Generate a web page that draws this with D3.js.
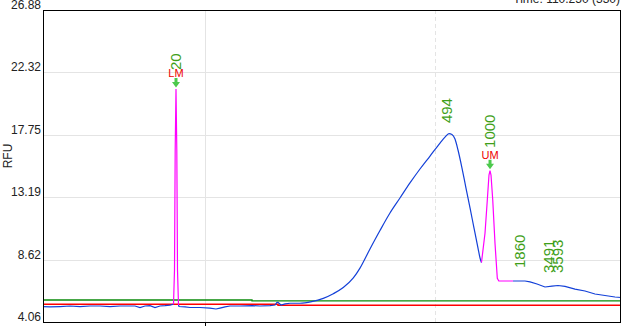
<!DOCTYPE html>
<html><head><meta charset="utf-8">
<script src="https://cdn.jsdelivr.net/npm/d3@7"></script>
<style>html,body{margin:0;padding:0;background:#fff;}svg{display:block;}</style>
</head><body>
<script>
// ---- data (time, RFU) ----
const yTickValues = [4.06, 8.62, 13.19, 17.75, 22.32, 26.88];
const xGridSolid = [40];
const xGridDashed = [80];
const xDomain = [12, 112];
const titleText = "Time: 110.250 (330)";

const blueSeg1 = [[12.00,5.19],[13.21,5.16],[14.94,5.19],[16.67,5.23],[18.40,5.19],[20.13,5.23],[21.86,5.23],[23.59,5.19],[25.32,5.23],[27.05,5.23],[27.92,5.23],[28.78,5.12],[29.65,5.23],[30.51,5.26],[31.38,5.12],[32.24,5.23],[33.11,5.26],[33.97,5.30],[34.58,5.36]];
const magentaLM = [[34.58,5.36],[34.75,7.86],[34.87,16.64],[35.01,21.10],[35.15,16.64],[35.27,7.86],[35.44,5.30]];
const blueBase2 = [[35.44,5.30],[35.53,5.19],[36.57,5.16],[37.43,5.12],[39.16,5.12],[40.89,5.08],[41.93,5.01],[42.62,5.08],[43.49,5.16],[44.35,5.23],[46.08,5.23],[48.16,5.26],[49.54,5.23],[51.27,5.26],[52.14,5.30],[52.48,5.50],[52.66,5.50],[53.18,5.30],[53.88,5.38],[54.73,5.43]];
const blueRise = [[54.73,5.43],[56.46,5.43],[58.49,5.55],[60.49,5.79],[62.22,6.13],[63.95,6.58],[65.69,7.28],[66.84,8.00],[68.57,9.40],[70.30,10.75],[72.03,12.03],[73.76,13.13],[75.49,14.23],[77.22,15.25],[78.96,16.20],[80.69,17.15],[81.55,17.58],[82.24,17.84],[82.76,17.78],[83.28,17.44],[83.80,16.64],[84.49,15.32],[85.18,13.86],[85.88,12.40],[86.57,10.93],[87.26,9.47],[87.61,8.74],[87.86,8.41]];
const magentaUM = [[87.86,8.41],[88.47,10.55],[88.87,12.98],[89.16,14.81],[89.34,15.13],[89.51,14.81],[89.81,12.98],[90.20,9.82],[90.60,7.26],[90.86,7.06],[93.32,7.06]];
const blueSeg3 = [[93.32,7.06],[95.39,7.06],[96.26,6.99],[97.47,6.84],[98.85,6.62],[100.06,6.69],[101.10,6.73],[102.31,6.66],[104.04,6.47],[105.77,6.33],[107.50,6.11],[109.23,6.00],[110.96,5.89],[112.00,5.85]];
const greenLine = [[12,5.67],[48.16,5.67],[48.16,5.60],[112,5.60]];
const redLine = [[12,5.36],[52.66,5.36],[52.66,5.28],[112,5.28]];

const peakLabels = ["20","494","1000","1860","3491","3593"];
const peakLabelTimes = [35.01, 81.9, 89.34, 94.53, 99.54, 101.01];
const peakLabelRfu = [22.49, 18.61, 16.79, 8.01, 7.64, 7.64];

const markerNames = ["LM","UM"];
const markerTimes = [35.01, 89.34];
const markerRfu = [21.10, 15.13];

// ---- layout ----
const W = 628, H = 330;
const L = 43, R = 621, T = 10, B = 322;
const font = "'Liberation Sans', Arial, sans-serif";

const svg = d3.select("body").append("svg").attr("width", W).attr("height", H);
const x = d3.scaleLinear().domain(xDomain).range([L, R]);
const y = d3.scaleLinear().domain([4.06, 26.88]).range([B, T]);

// grid
svg.selectAll("line.hg").data(yTickValues.slice(1, -1)).join("line")
  .attr("x1", L).attr("x2", R).attr("y1", d => Math.round(y(d)) + 0.5).attr("y2", d => Math.round(y(d)) + 0.5)
  .attr("stroke", "#e4e4e4").attr("stroke-width", 1);
svg.selectAll("line.vs").data(xGridSolid).join("line")
  .attr("x1", d => Math.round(x(d)) + 0.5).attr("x2", d => Math.round(x(d)) + 0.5).attr("y1", T).attr("y2", B)
  .attr("stroke", "#e4e4e4");
svg.selectAll("line.vd").data(xGridDashed).join("line")
  .attr("x1", d => Math.round(x(d)) - 0.5).attr("x2", d => Math.round(x(d)) - 0.5).attr("y1", T).attr("y2", B)
  .attr("stroke", "#e4e4e4").attr("stroke-dasharray", "4,3");

// y tick labels
svg.selectAll("text.yt").data(yTickValues).join("text")
  .attr("x", L - 2).attr("y", d => y(d) - 1)
  .attr("text-anchor", "end").attr("font-family", font).attr("font-size", 12).attr("fill", "#222")
  .text(d => d.toFixed(2));

svg.append("text").attr("transform", `translate(12,${(T + B) / 2 - 10}) rotate(-90)`)
  .attr("text-anchor", "middle").attr("font-family", font).attr("font-size", 12).attr("fill", "#222").text("RFU");

// x axis tick (only visible one)
svg.selectAll("line.xt").data(xGridSolid).join("line")
  .attr("x1", d => Math.round(x(d)) + 0.5).attr("x2", d => Math.round(x(d)) + 0.5).attr("y1", B).attr("y2", B + 4)
  .attr("stroke", "#000");

// title (partially cut at top)
svg.append("text").attr("x", R - 1).attr("y", 3).attr("text-anchor", "end")
  .attr("font-family", font).attr("font-size", 12).attr("fill", "#222").text(titleText);

const line = d3.line().x(d => x(d[0])).y(d => y(d[1]));
const smooth = d3.line().curve(d3.curveMonotoneX).x(d => x(d[0])).y(d => y(d[1]));
const g = svg.append("g");
g.append("path").datum(greenLine).attr("d", line).attr("fill", "none").attr("stroke", "#0a8a0a").attr("stroke-width", 1.3);
g.append("path").datum(redLine).attr("d", line).attr("fill", "none").attr("stroke", "#ff0000").attr("stroke-width", 1.5);
[blueSeg1, blueBase2, blueSeg3].forEach(s =>
  g.append("path").datum(s).attr("d", line).attr("fill", "none").attr("stroke", "#1340d8").attr("stroke-width", 1.2));
g.append("path").datum(blueRise).attr("d", smooth).attr("fill", "none").attr("stroke", "#1340d8").attr("stroke-width", 1.2);
[magentaLM, magentaUM].forEach(s =>
  g.append("path").datum(s).attr("d", line).attr("fill", "none").attr("stroke", "#ff00ff").attr("stroke-width", 1.2));

// frame
svg.append("rect").attr("x", L + 0.5).attr("y", T + 0.5).attr("width", R - L - 1).attr("height", B - T)
  .attr("fill", "none").attr("stroke", "#000").attr("stroke-width", 1);

// markers
markerNames.forEach((nm, i) => {
  const px = x(markerTimes[i]), py = y(markerRfu[i]);
  svg.append("path")
    .attr("d", `M${px - 1.5},${py - 11} L${px + 1.5},${py - 11} L${px + 1.5},${py - 7} L${px + 4},${py - 7} L${px},${py - 1.5} L${px - 4},${py - 7} L${px - 1.5},${py - 7} Z`)
    .attr("fill", "#4cc94c");
  svg.append("text").attr("x", px).attr("y", py - 12).attr("text-anchor", "middle")
    .attr("font-family", font).attr("font-size", 11).attr("fill", "#ee0000").text(nm);
});

// peak labels
peakLabels.forEach((lb, i) => {
  svg.append("text")
    .attr("transform", `translate(${x(peakLabelTimes[i])},${y(peakLabelRfu[i])}) rotate(-90)`)
    .attr("dy", "0.35em").attr("text-anchor", "start")
    .attr("font-family", font).attr("font-size", 15).attr("fill", "#3f9f1a").text(lb);
});
</script>
</body></html>
